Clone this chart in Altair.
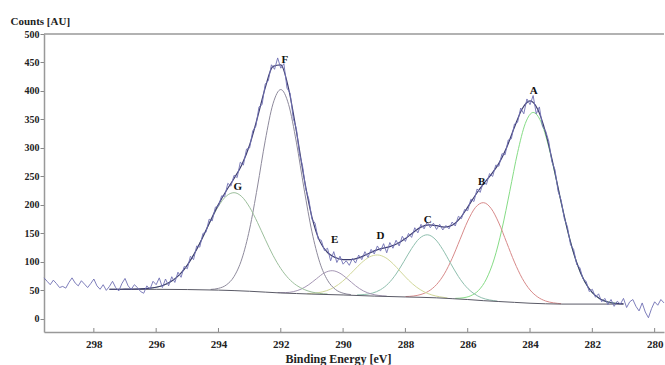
import altair as alt
import pandas as pd

# ---- measured spectrum (0.1 eV steps starting at 299.6 eV, going down) ----
SPEC_START = 299.6
SPEC_STEP = 0.1
SPEC_COUNTS = [
    72, 66, 60, 68, 62, 55, 57, 54, 64, 72,
    63, 58, 67, 61, 55, 62, 70, 58, 52, 60,
    50, 57, 66, 55, 49, 62, 71, 58, 52, 60,
    55, 48, 45, 58, 52, 66, 60, 72, 55, 70,
    58, 74, 64, 82, 73, 92, 88, 110, 104, 128,
    126, 150, 152, 175, 172, 196, 198, 216, 215, 238,
    233, 252, 248, 275, 270, 298, 300, 330, 338, 372,
    376, 412, 418, 446, 438, 458, 440, 448, 405, 396,
    352, 334, 290, 268, 228, 210, 175, 168, 140, 138,
    120, 124, 102, 118, 99, 110, 96, 102, 94, 106,
    98, 112, 104, 118, 108, 122, 114, 128, 119, 132,
    116, 134, 124, 138, 128, 145, 136, 150, 143, 160,
    151, 166, 158, 170, 160, 168, 157, 166, 156, 164,
    158, 170, 163, 180, 176, 192, 190, 210, 206, 228,
    222, 240, 236, 255, 250, 270, 268, 290, 288, 314,
    316, 342, 345, 370, 360, 386, 376, 392, 360, 372,
    338, 330, 312, 276, 262, 224, 208, 176, 162, 130,
    122, 95, 90, 70, 66, 48, 52, 38, 44, 30,
    36, 25, 34, 22, 31, 26, 36, 20, 30, 34,
    22, 14, 28, 12, 2, 18, 30, 24, 34, 28,
]

# ---- fit envelope (0.25 eV steps starting at 297.5 eV) ----
ENV_START = 297.5
ENV_STEP = 0.25
ENV_Y = [
    52.0, 52.0, 52.1, 52.3,
    52.7, 53.6, 55.5, 59.4,
    66.3, 77.6, 94.4, 116.9,
    144.0, 173.2, 201.0, 225.0,
    246.4, 270.7, 305.2, 353.0,
    405.4, 443.2, 445.9, 404.2,
    329.6, 246.6, 178.7, 136.5,
    116.5, 107.7, 104.1, 104.0,
    107.0, 113.1, 119.3, 123.7,
    126.9, 132.2, 140.9, 151.8,
    161.1, 164.9, 163.6, 161.1,
    164.4, 176.4, 196.1, 217.5,
    236.4, 253.2, 273.0, 301.0,
    336.4, 368.8, 382.6, 367.5,
    327.0, 269.0, 204.6, 145.4,
    98.5, 65.9, 46.0, 35.1,
    29.7, 27.4, 26.5,
]

# ---- background ----
BG_X = [297.5, 296, 295, 294, 293, 292.5, 292, 291.5, 291, 290, 289, 288, 287,
        286.5, 286, 285.5, 285, 284.5, 284, 283.5, 283, 281]
BG_Y = [52, 51.9, 51.5, 50.5, 48.5, 47, 45.5, 44.5, 43.5, 42, 40, 38.5, 37,
        35.5, 34, 32, 30.5, 29, 27.5, 26.5, 26, 26]

# ---- fitted components (drawn on top of background) ----
A_X = [281.15, 281.4, 281.65, 281.9, 282.15, 282.4, 282.65, 282.9, 283.15, 283.4, 283.65,
       283.9, 284.15, 284.4, 284.65, 284.9, 285.15, 285.4, 285.65, 285.9, 286.15, 286.4]
A_Y = [26.9, 28.5, 32.4, 40.7, 56.6, 83.8, 124.8, 179.4, 242.1, 302.0, 346.0,
       362.3, 343.2, 291.7, 224.0, 157.9, 105.2, 70.1, 50.1, 40.7, 37.0, 36.0]
B_X = [283.0, 283.25, 283.5, 283.75, 284.0, 284.25, 284.5, 284.75, 285.0, 285.25, 285.5,
       285.75, 286.0, 286.25, 286.5, 286.75, 287.0, 287.25, 287.5, 287.75, 288.0]
B_Y = [26.7, 28.2, 31.4, 38.3, 50.8, 71.1, 99.7, 134.0, 168.2, 193.9, 204.0,
       195.7, 171.7, 139.0, 106.2, 79.1, 60.3, 48.8, 42.9, 40.1, 39.2]
C_X = [285.05, 285.3, 285.55, 285.8, 286.05, 286.3, 286.55, 286.8, 287.05, 287.3,
       287.55, 287.8, 288.05, 288.3, 288.55, 288.8, 289.05, 289.3, 289.55]
C_Y = [31.2, 33.3, 37.0, 44.3, 56.4, 74.5, 97.6, 121.6, 140.2, 147.6,
       141.2, 123.5, 100.6, 78.7, 61.9, 51.2, 45.4, 42.9, 42.2]
D_X = [286.65, 286.9, 287.15, 287.4, 287.65, 287.9, 288.15, 288.4, 288.65, 288.9,
       289.15, 289.4, 289.65, 289.9, 290.15, 290.4, 290.65, 290.9, 291.15]
D_Y = [36.7, 38.8, 42.0, 47.5, 56.1, 68.0, 82.5, 97.0, 107.9, 112.2,
       108.8, 98.9, 85.4, 71.6, 60.3, 52.3, 47.6, 45.3, 44.4]
E_X = [288.6, 288.85, 289.1, 289.35, 289.6, 289.85, 290.1, 290.35, 290.6, 290.85,
       291.1, 291.35, 291.6, 291.85, 292.1]
E_Y = [40.0, 41.1, 43.8, 49.1, 58.2, 69.8, 80.1, 84.6, 80.8, 70.7,
       60.1, 52.2, 47.8, 46.2, 46.2]
F_X = [289.75, 290.0, 290.25, 290.5, 290.75, 291.0, 291.25, 291.5, 291.75, 292.0,
       292.25, 292.5, 292.75, 293.0, 293.25, 293.5, 293.75, 294.0, 294.25]
F_Y = [42.7, 45.1, 51.9, 67.9, 99.3, 152.8, 227.5, 310.1, 376.5, 402.5,
       377.5, 312.6, 231.5, 157.8, 105.2, 74.4, 59.5, 53.6, 51.7]
G_X = [290.5, 290.75, 291.0, 291.25, 291.5, 291.75, 292.0, 292.25, 292.5, 292.75,
       293.0, 293.25, 293.5, 293.75, 294.0, 294.25, 294.5, 294.75, 295.0, 295.25,
       295.5, 295.75, 296.0, 296.25, 296.5]
G_Y = [43.7, 44.7, 47.1, 51.6, 59.1, 71.0, 88.4, 111.6, 139.8, 169.5,
       195.9, 214.5, 221.5, 215.5, 197.9, 172.3, 143.8, 117.2, 94.4, 77.6,
       66.3, 59.4, 55.5, 53.6, 52.7]

COMP_NAMES = ["A", "B", "C", "D", "E", "F", "G"]
COMP_COLORS = ["#86dc86", "#d88a8a", "#8fbfae", "#d2d89a", "#a596b4", "#8e8a9c", "#9cbf9c"]

# ---- peak labels ----
LABEL_TEXT = ["A", "B", "C", "D", "E", "F", "G"]
LABEL_X = [283.88, 285.55, 287.28, 288.8, 290.27, 291.87, 293.38]
LABEL_Y = [400, 240, 174, 146, 139, 454, 232]

X_TICKS = [280, 282, 284, 286, 288, 290, 292, 294, 296, 298]
Y_TICKS = [0, 50, 100, 150, 200, 250, 300, 350, 400, 450, 500]

X_DOMAIN = [279.7, 299.6]
Y_DOMAIN = [-23, 500]

# ---- tables ----
spec_df = pd.DataFrame({
    "x": [round(SPEC_START - SPEC_STEP * i, 2) for i in range(len(SPEC_COUNTS))],
    "y": SPEC_COUNTS,
})
env_df = pd.DataFrame({
    "x": [round(ENV_START - ENV_STEP * i, 2) for i in range(len(ENV_Y))],
    "y": ENV_Y,
})
bg_df = pd.DataFrame({"x": BG_X, "y": BG_Y})
comp_rows = []
for name, xs, ys in zip(COMP_NAMES, [A_X, B_X, C_X, D_X, E_X, F_X, G_X],
                        [A_Y, B_Y, C_Y, D_Y, E_Y, F_Y, G_Y]):
    for i, (xv, yv) in enumerate(zip(xs, ys)):
        comp_rows.append({"comp": name, "x": xv, "y": yv, "i": i})
comp_df = pd.DataFrame(comp_rows)
lab_df = pd.DataFrame({"t": LABEL_TEXT, "x": LABEL_X, "y": LABEL_Y})
tick_df = pd.DataFrame({"x": X_TICKS, "y": [Y_DOMAIN[0]] * len(X_TICKS),
                        "y1": [Y_DOMAIN[0] + 7] * len(X_TICKS)})
top_df = pd.DataFrame({"y": [500]})

SERIF = "Liberation Serif"

xscale = alt.Scale(domain=X_DOMAIN, reverse=True, nice=False, zero=False)
yscale = alt.Scale(domain=Y_DOMAIN, nice=False, zero=False)

xaxis = alt.Axis(values=X_TICKS, format="d", tickSize=0, labelPadding=6,
                 labelFont=SERIF, labelFontWeight="bold", labelFontSize=11,
                 labelColor="#222222", labelOverlap=False,
                 domainColor="#999999", domainWidth=1.5,
                 grid=False, title="Binding Energy [eV]", titleFont=SERIF,
                 titleFontWeight="bold", titleFontSize=12, titleColor="#222222",
                 titleX=294, titleY=26, titleBaseline="middle", titleAlign="center")
yaxis = alt.Axis(values=Y_TICKS, format="d", tickSize=4, tickColor="#888888",
                 labelPadding=1, labelFont=SERIF, labelFontWeight="bold",
                 labelFontSize=10, labelColor="#222222", labelOverlap=False,
                 domainColor="#999999",
                 domainWidth=1.5, grid=False, title="Counts [AU]", titleFont=SERIF,
                 titleFontWeight="bold", titleFontSize=11, titleColor="#222222",
                 titleAngle=0, titleX=-34, titleY=-13, titleAlign="left",
                 titleBaseline="middle")


def X():
    return alt.X("x:Q", scale=xscale, axis=xaxis)


def Y():
    return alt.Y("y:Q", scale=yscale, axis=yaxis)


comps = alt.Chart(comp_df).mark_line(strokeWidth=1, interpolate="monotone").encode(
    x=X(), y=Y(),
    color=alt.Color("comp:N", scale=alt.Scale(domain=COMP_NAMES, range=COMP_COLORS), legend=None),
    detail="comp:N",
    order="i:Q",
)
bg = alt.Chart(bg_df).mark_line(strokeWidth=1, color="#5a5a66", interpolate="monotone").encode(
    x=X(), y=Y())
env = alt.Chart(env_df).mark_line(strokeWidth=1.2, color="#3e3e70", interpolate="monotone").encode(
    x=X(), y=Y())
spec = alt.Chart(spec_df).mark_line(strokeWidth=1, color="#7070b4", opacity=0.9).encode(
    x=X(), y=Y())
labels = alt.Chart(lab_df).mark_text(font=SERIF, fontWeight="bold", fontSize=11,
                                     color="#111111", baseline="middle", align="center").encode(
    x=X(), y=Y(), text="t:N")
xticks = alt.Chart(tick_df).mark_rule(color="#888888", strokeWidth=1).encode(
    x=X(), y=Y(), y2="y1:Q")
top = alt.Chart(top_df).mark_rule(color="#999999", strokeWidth=1.5).encode(y=Y())

chart = alt.layer(comps, bg, env, spec, labels, xticks, top).properties(
    width=620, height=298,
    autosize=alt.AutoSizeParams(type="none"),
    padding={"left": 44, "top": 34, "right": 1, "bottom": 33},
    background="white",
).configure_view(stroke=None)

chart.save("out.html", embed_options={"renderer": "svg", "actions": False})
